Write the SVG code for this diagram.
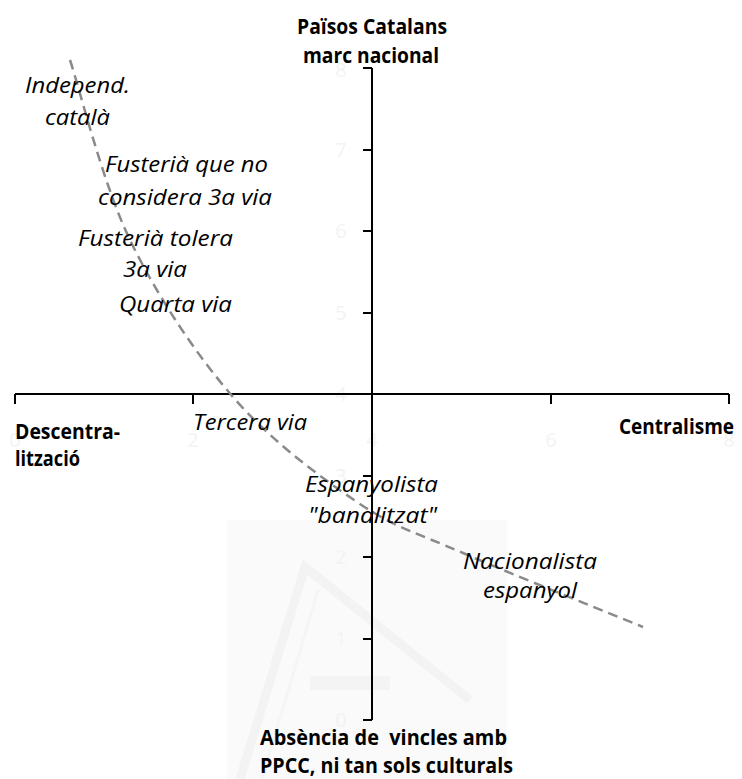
<svg xmlns="http://www.w3.org/2000/svg" width="742" height="779" viewBox="0 0 742 779">
  <style>
    .it { font-family: "Open Sans", "Liberation Sans", sans-serif; font-style: italic; font-size: 22px; fill: #000; }
    .bd { font-family: "Open Sans", "Liberation Sans", sans-serif; font-weight: bold; font-size: 21px; fill: #000; }
    .tk { font-family: "Open Sans", "Liberation Sans", sans-serif; font-size: 20px; fill: #f3f3f3; text-anchor: middle; }
    .axis { stroke: #000; stroke-width: 2; fill: none; }
    .curve { stroke: #8a8a8a; stroke-width: 2.5; fill: none; stroke-dasharray: 10 6; }
  </style>
  <rect width="742" height="779" fill="#fff"/>
  <g id="watermark">
    <rect x="227" y="520" width="280" height="259" fill="#fafafa"/>
    <path d="M240,779 L305,567 L470,700" fill="none" stroke="#f3f3f3" stroke-width="9"/>
    <path d="M262,779 L318,590" fill="none" stroke="#f5f5f5" stroke-width="3"/>
    <rect x="310" y="676" width="80" height="14" fill="#f4f4f4"/>
  </g>
  <g id="tick-labels">
    <text class="tk" x="341" y="77">8</text>
    <text class="tk" x="341" y="157">7</text>
    <text class="tk" x="341" y="238">6</text>
    <text class="tk" x="341" y="320">5</text>
    <text class="tk" x="341" y="401">4</text>
    <text class="tk" x="341" y="483">3</text>
    <text class="tk" x="341" y="564">2</text>
    <text class="tk" x="341" y="646">1</text>
    <text class="tk" x="341" y="727">0</text>
    <text class="tk" x="15" y="447">0</text>
    <text class="tk" x="193" y="447">2</text>
    <text class="tk" x="372" y="447">4</text>
    <text class="tk" x="551" y="447">6</text>
    <text class="tk" x="729" y="447">8</text>
  </g>
  <g id="axes">
    <path class="axis" d="M372,68 V720 M363,68 H372 M363,150 H372 M363,231 H372 M363,313 H372 M363,476 H372 M363,557 H372 M363,639 H372 M363,720 H372"/>
    <path class="axis" d="M15,394 H729 M15,394 V404 M193,394 V404 M372,394 V404 M551,394 V404 M729,394 V404"/>
  </g>
  <g id="connectors">
    <path class="curve" d="M70,60 C80,90 102.8,183.8 130,240 C157.2,296.2 195.2,353.3 233,397 C270.8,440.7 318.7,476 357,502 C395.3,528 415.3,532.2 463,553 C510.7,573.8 613,614.7 643,627"/>
  </g>
  <g id="axis-top"><text class="bd" x="297" y="34" textLength="150" lengthAdjust="spacingAndGlyphs">Països Catalans</text><text class="bd" x="303" y="63" textLength="136" lengthAdjust="spacingAndGlyphs">marc nacional</text></g>
  <g id="axis-left"><text class="bd" x="15" y="439" textLength="105" lengthAdjust="spacingAndGlyphs">Descentra-</text><text class="bd" x="15" y="466" textLength="65" lengthAdjust="spacingAndGlyphs">lització</text></g>
  <g id="axis-right"><text class="bd" x="619" y="434" textLength="115" lengthAdjust="spacingAndGlyphs">Centralisme</text></g>
  <g id="axis-bottom"><text class="bd" x="260" y="745" textLength="247" lengthAdjust="spacingAndGlyphs" xml:space="preserve">Absència de  vincles amb</text><text class="bd" x="260" y="773" textLength="253" lengthAdjust="spacingAndGlyphs">PPCC, ni tan sols culturals</text></g>
  <g id="independ"><text class="it" x="25" y="93" textLength="105" lengthAdjust="spacingAndGlyphs">Independ.</text><text class="it" x="45" y="125" textLength="65" lengthAdjust="spacingAndGlyphs">català</text></g>
  <g id="fusteria-no3a"><text class="it" x="105" y="172" textLength="163" lengthAdjust="spacingAndGlyphs">Fusterià que no</text><text class="it" x="98" y="205" textLength="174" lengthAdjust="spacingAndGlyphs">considera 3a via</text></g>
  <g id="fusteria-tolera"><text class="it" x="78" y="246" textLength="155" lengthAdjust="spacingAndGlyphs">Fusterià tolera</text><text class="it" x="123" y="277" textLength="64" lengthAdjust="spacingAndGlyphs">3a via</text></g>
  <g id="quarta-via"><text class="it" x="119" y="312" textLength="113" lengthAdjust="spacingAndGlyphs">Quarta via</text></g>
  <g id="tercera-via"><text class="it" x="193" y="430" textLength="114" lengthAdjust="spacingAndGlyphs">Tercera via</text></g>
  <g id="espanyolista"><text class="it" x="305" y="492" textLength="133" lengthAdjust="spacingAndGlyphs">Espanyolista</text><text class="it" x="308" y="523" textLength="129" lengthAdjust="spacingAndGlyphs">"banalitzat"</text></g>
  <g id="nacionalista"><text class="it" x="463" y="569" textLength="134" lengthAdjust="spacingAndGlyphs">Nacionalista</text><text class="it" x="483" y="598" textLength="94" lengthAdjust="spacingAndGlyphs">espanyol</text></g>
</svg>
